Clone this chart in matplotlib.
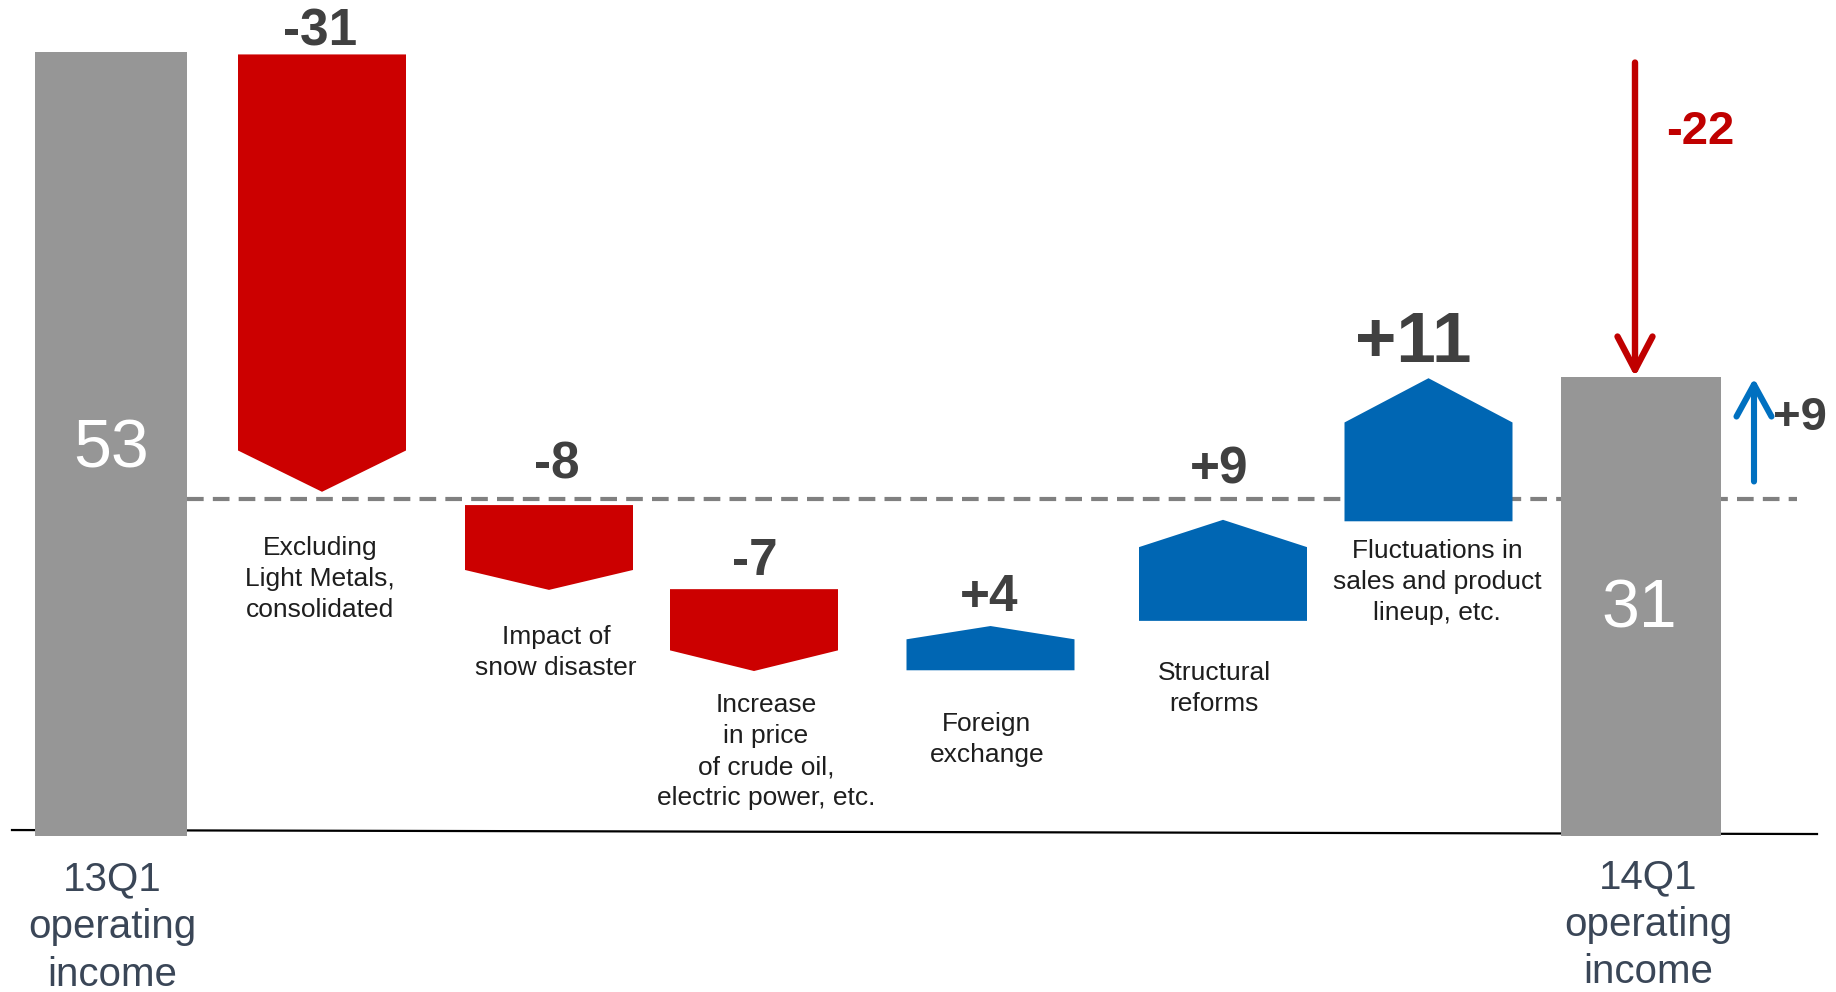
"""
Operating income bridge, 13Q1 -> 14Q1 (stylised waterfall, not to scale).
"""
import matplotlib
matplotlib.use("Agg")
import matplotlib.pyplot as plt
from matplotlib.patches import Polygon, Rectangle

plt.rcParams["font.family"] = ["Liberation Sans", "DejaVu Sans"]

# ---- data -----------------------------------------------------------------
totals = [53, 31]
total_labels = ["13Q1\noperating\nincome", "14Q1\noperating\nincome"]

steps = ["Excluding\nLight Metals,\nconsolidated",
         "Impact of\nsnow disaster",
         "Increase\nin price\nof crude oil,\nelectric power, etc.",
         "Foreign\nexchange",
         "Structural\nreforms",
         "Fluctuations in\nsales and product\nlineup, etc."]
step_values = [-31, -8, -7, 4, 9, 11]
# levels each shape runs between as drawn (the chart is compressed after step 1)
step_from = [52.85, 22.3, 16.6, 11.1, 14.45, 21.2]
step_to = [23.2, 16.55, 11.05, 14.1, 21.3, 30.9]
step_head = [2.8, 1.35, 1.4, 0.9, 1.85, 3.0]

bridge_level = 22.7          # dashed line
net_change = -22             # 53 -> 31
net_from = 52.3
recovery = 9                 # bridge level -> 31
recovery_from = 23.9

# ---- layout ---------------------------------------------------------------
RED, BLUE, GREY = "#CC0000", "#0066B3", "#969696"
DARK, TXT, SLATE = "#404040", "#1E1E1E", "#3A4657"

x_total = [1.11, 16.41]
w_total = [1.52, 1.60]
x_step = [3.22, 5.49, 7.54, 9.905, 12.23, 14.285]
w_step = 1.68

val_xy = [(3.20, 54.35), (5.57, 25.0), (7.55, 18.45), (9.89, 16.05), (12.19, 24.65), (14.13, 33.2)]
val_size = [37, 37, 37, 37, 37, 51]
cat_xy = [(3.20, 17.3), (5.56, 12.3), (7.66, 5.6), (9.87, 6.4), (12.14, 9.85), (14.37, 17.1)]
tot_val_xy = [(1.11, 26.1), (16.39, 15.25)]
tot_lab_xy = [(1.12, -6.3), (16.48, -6.15)]

fig = plt.figure(figsize=(18.36, 9.92), dpi=100)
ax = fig.add_axes([0, 0, 1, 1])
ax.set_xlim(0, 18.36)
ax.set_ylim(-10.71, 56.54)
ax.axis("off")

# baseline and bridge line
ax.plot([0.12, 18.17], [0.27, 0.0], color="black", lw=1.6, zorder=1)
ax.plot([1.87, 17.97], [bridge_level, bridge_level], color="#808080", lw=3,
        dashes=(4, 2.2), zorder=1)

# total bars
for x, w, v in zip(x_total, w_total, totals):
    ax.add_patch(Rectangle((x - w / 2, -0.15), w, v + 0.15, color=GREY, lw=0, zorder=2))
for (x, y), v in zip(tot_val_xy, totals):
    ax.text(x, y, str(v), color="white", fontsize=49, ha="center", va="center", zorder=5)
for (x, y), lab in zip(tot_lab_xy, total_labels):
    ax.text(x, y, lab, color=SLATE, fontsize=29, ha="center", va="center",
            linespacing=1.32)

# step arrows
for x, v, y0, y1, h in zip(x_step, step_values, step_from, step_to, step_head):
    half = w_step / 2
    sign = 1 if y1 > y0 else -1
    shoulder = y1 - sign * h
    pts = [(x - half, y0), (x + half, y0), (x + half, shoulder), (x, y1), (x - half, shoulder)]
    ax.add_patch(Polygon(pts, closed=True, color=BLUE if v > 0 else RED, lw=0, zorder=3))

for (x, y), v, fs in zip(val_xy, step_values, val_size):
    ax.text(x, y, f"{v:+d}", color=DARK, fontsize=fs, fontweight="bold",
            ha="center", va="center")
for (x, y), lab in zip(cat_xy, steps):
    ax.text(x, y, lab, color=TXT, fontsize=19, ha="center", va="center", linespacing=1.38)

# net change arrows
ax.annotate("", xy=(16.35, totals[1]), xytext=(16.35, net_from),
            arrowprops=dict(arrowstyle="->,head_length=2.4,head_width=1.26",
                            mutation_scale=10, lw=4.6, color="#C00000",
                            shrinkA=0, shrinkB=0), zorder=4)
ax.text(17.0, 47.6, f"{net_change:+d}", color="#C00000", fontsize=34,
        fontweight="bold", ha="center", va="center")
ax.annotate("", xy=(17.54, totals[1] - 0.1), xytext=(17.54, recovery_from),
            arrowprops=dict(arrowstyle="->,head_length=2.3,head_width=1.26",
                            mutation_scale=10, lw=4.4, color="#0070C0",
                            shrinkA=0, shrinkB=0), zorder=4)
ax.text(18.0, 28.2, f"{recovery:+d}", color=DARK, fontsize=34,
        fontweight="bold", ha="center", va="center")

fig.savefig("out.png", dpi=100)
